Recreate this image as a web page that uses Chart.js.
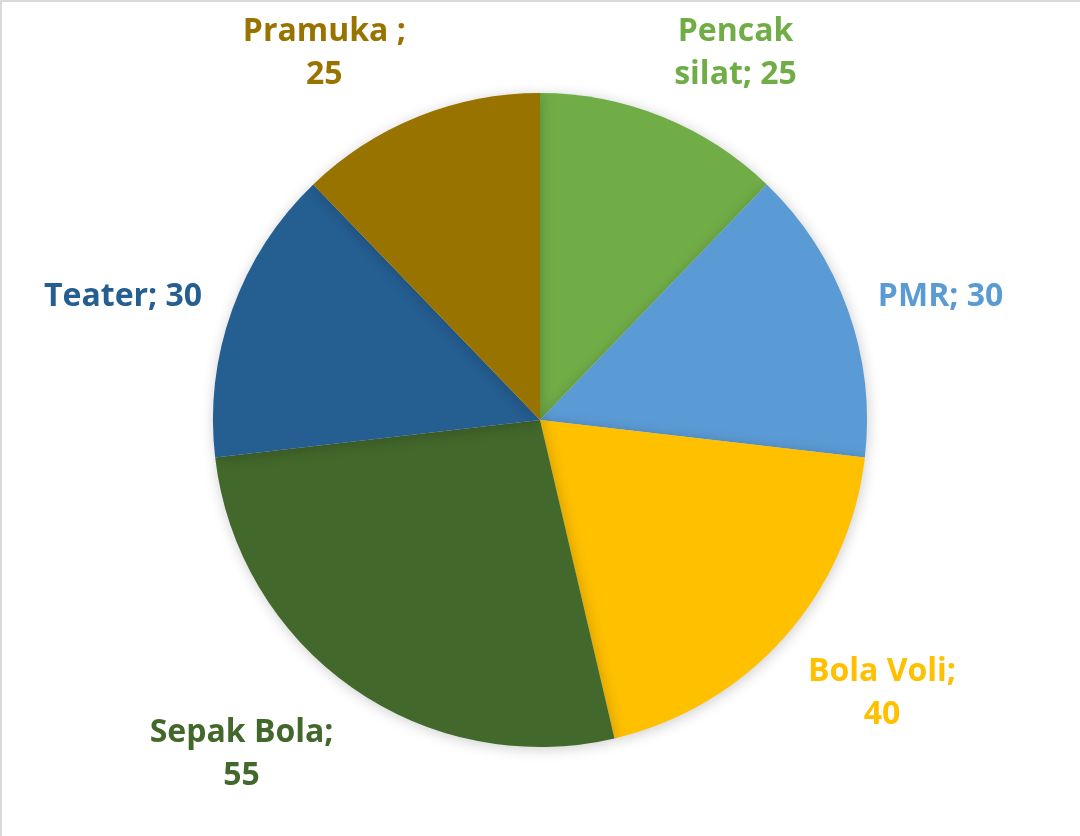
<!DOCTYPE html>
<html>
<head>
<meta charset="utf-8">
<script src="https://cdn.jsdelivr.net/npm/chart.js@4"></script>
<style>
    html, body { margin: 0; padding: 0; background: #fff; }
    .wrap { width: 1078px; height: 834px; border-top: 2px solid #d9d9d9; border-left: 2px solid #d9d9d9; position: relative; }
    #pie { position: absolute; left: -2px; top: -2px; }
</style>
</head>
<body>
<div class="wrap"><canvas id="pie" width="1080" height="836"></canvas></div>
<script>
const categories = ['Pencak silat', 'PMR', 'Bola Voli', 'Sepak Bola', 'Teater', 'Pramuka '];
const values = [25, 30, 40, 55, 30, 25];
const colors = ['#70ad47', '#5b9bd5', '#ffc000', '#43682b', '#255e91', '#997300'];

const labelFont = 'bold 32px "Open Sans"';
const lineHeight = 43;
const wrapWidth = 187;

function wrapText(ctx, text) {
    const words = text.split(' ');
    const lines = [];
    let line = '';
    words.forEach(w => {
        const test = line ? line + ' ' + w : w;
        if (line && ctx.measureText(test).width > wrapWidth) {
            lines.push(line);
            line = w;
        } else {
            line = test;
        }
    });
    lines.push(line);
    return lines;
}

const shadowPlugin = {
    id: 'shadow',
    beforeDatasetsDraw(chart) {
        const ctx = chart.ctx;
        ctx.save();
        ctx.shadowColor = 'rgba(0,0,0,0.2)';
        ctx.shadowBlur = 14;
        ctx.shadowOffsetX = 1;
        ctx.shadowOffsetY = 2;
    },
    afterDatasetsDraw(chart) {
        chart.ctx.restore();
    }
};

const outsideLabels = {
    id: 'outsideLabels',
    afterDraw(chart) {
        const ctx = chart.ctx;
        const meta = chart.getDatasetMeta(0);
        ctx.save();
        ctx.font = labelFont;
        ctx.textAlign = 'center';
        ctx.textBaseline = 'middle';
        meta.data.forEach((arc, i) => {
            const a = (arc.startAngle + arc.endAngle) / 2;
            const dx = Math.cos(a), dy = Math.sin(a);
            const r = arc.outerRadius + 32;
            const px = arc.x + r * dx, py = arc.y + r * dy;
            const lines = wrapText(ctx, chart.data.labels[i] + '; ' + chart.data.datasets[0].data[i]);
            const w = Math.max(...lines.map(l => ctx.measureText(l).width));
            const h = lines.length * lineHeight;
            const cx = px + Math.sign(dx) * w / 2;
            const cy = py + dy * h / 2 + 6;
            ctx.fillStyle = colors[i];
            lines.forEach((l, k) => {
                ctx.fillText(l, cx, cy - h / 2 + lineHeight * (k + 0.5));
            });
        });
        ctx.restore();
    }
};

new Chart(document.getElementById('pie'), {
    type: 'pie',
    data: {
        labels: categories,
        datasets: [{ data: values, backgroundColor: colors, borderWidth: 0 }]
    },
    options: {
        responsive: false,
        animation: false,
        layout: { padding: { top: 93, bottom: 89, left: 0, right: 0 } },
        plugins: { legend: { display: false }, tooltip: { enabled: false } },
        events: []
    },
    plugins: [shadowPlugin, outsideLabels]
});
</script>
</body>
</html>
